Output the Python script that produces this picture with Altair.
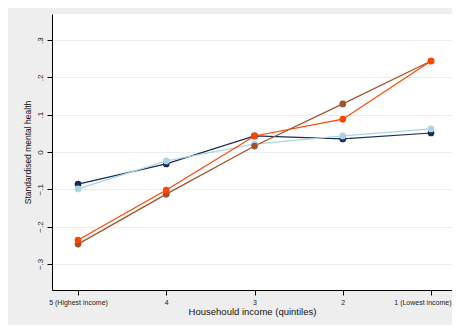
import altair as alt
import pandas as pd

quintiles = [5, 4, 3, 2, 1]
x_labels = ["5 (Highest income)", "4", "3", "2", "1 (Lowest income)"]
series_names = ["S1", "S2", "S3", "S4"]
s1_navy = [-0.086, -0.032, 0.043, 0.035, 0.051]
s2_ltblue = [-0.099, -0.024, 0.021, 0.043, 0.062]
s3_brown = [-0.247, -0.113, 0.016, 0.129, 0.244]
s4_orange = [-0.236, -0.102, 0.043, 0.088, 0.244]
colors = ["#1b2b55", "#a9d6e5", "#a0522d", "#ff4500"]

rows = []
for name, vals in zip(series_names, [s1_navy, s2_ltblue, s3_brown, s4_orange]):
    for q, v in zip(quintiles, vals):
        rows.append({"series": name, "q": q, "v": v})
df = pd.DataFrame(rows)

label_map = "{" + ",".join(f"'{q}':'{l}'" for q, l in zip(quintiles, x_labels)) + "}"

x = alt.X("q:Q", scale=alt.Scale(domain=[0.762, 5.295], reverse=True, nice=False, zero=False),
          axis=alt.Axis(values=quintiles, title="Househould income (quintiles)",
                        labelExpr=f"{label_map}[''+datum.value]",
                        grid=False, domainColor="black", tickColor="black", tickSize=5,
                        labelFontSize=7, labelColor="#222", labelPadding=3,
                        titleFontSize=9.5, titleFontWeight="normal", titleColor="#111",
                        titlePadding=1, labelFlush=23, labelFlushOffset=20,
                        labelOverlap=False))
y = alt.Y("v:Q", scale=alt.Scale(domain=[-0.37, 0.37], nice=False, zero=False),
          axis=alt.Axis(values=[-0.3, -0.2, -0.1, 0, 0.1, 0.2, 0.3],
                        title="Standardised mental health",
                        labelExpr="datum.value == 0 ? '0' : replace(format(datum.value, '.1f'), '0.', '.')",
                        labelAngle=270, labelAlign="center", labelBaseline="bottom",
                        grid=True, gridColor="#e6f0f1", gridWidth=1,
                        domainColor="black", tickColor="black", tickSize=5,
                        labelFontSize=8, labelColor="#222", labelPadding=3,
                        titleFontSize=8.5, titleFontWeight="normal", titleColor="#111",
                        titlePadding=4))
color = alt.Color("series:N", scale=alt.Scale(domain=series_names, range=colors), legend=None)

base = alt.Chart(df)
lines = base.mark_line(strokeWidth=1.2).encode(x=x, y=y, color=color, detail="series:N")
points = base.mark_circle(size=45, opacity=1).encode(x=x, y=y, color=color,
                                                      order=alt.Order("series:N"))

chart = (lines + points).properties(
    width=400, height=276,
    padding={"left": 44, "top": 6, "right": 0, "bottom": 35},
    autosize=alt.AutoSizeParams(type="none"),
    background="#eeeeee",
).configure_view(fill="white", stroke=None).configure_axis(
    labelFont="Liberation Sans", titleFont="Liberation Sans")

chart.save("out.html", embed_options={"renderer": "svg", "actions": False})
